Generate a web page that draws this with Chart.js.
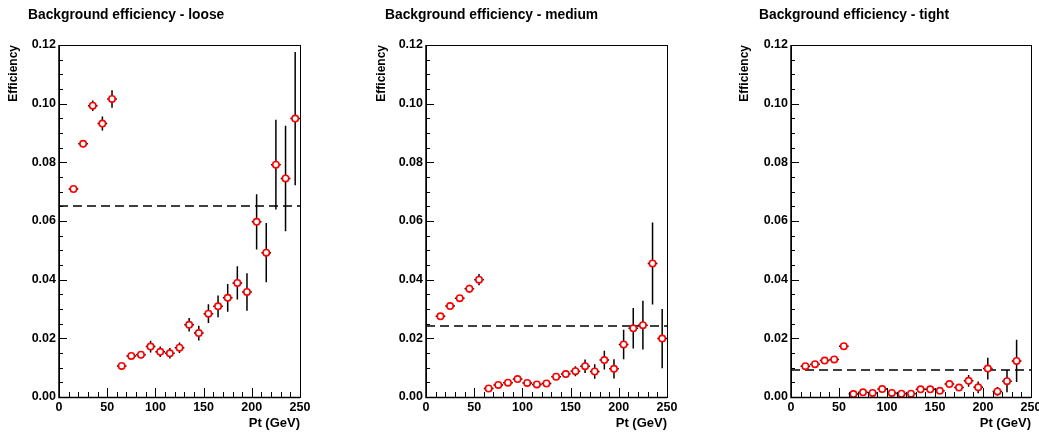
<!DOCTYPE html>
<html><head><meta charset="utf-8">
<script src="https://cdn.jsdelivr.net/npm/chart.js@4.4.1/dist/chart.umd.min.js"></script>
<style>
html,body{margin:0;padding:0;background:#fff;overflow:hidden;width:1039px;height:432px;}
#wrap{position:relative;width:1039px;height:432px;overflow:hidden;background:#fff;}
canvas{position:absolute;top:0;}
</style></head><body><div id="wrap">
<canvas id="c0" width="340" height="432"></canvas>
<canvas id="c1" width="340" height="432"></canvas>
<canvas id="c2" width="340" height="432"></canvas>
</div>
<script>
// ---- data ----
const ptBins = [15,25,35,45,55,65,75,85,95,105,115,125,135,145,155,165,175,185,195,205,215,225,235,245];
const binHalfWidth = 5;
const looseEff = [0.0709,0.0863,0.0993,0.0932,0.1016,0.0106,0.0140,0.0144,0.0172,0.0154,0.0149,0.0168,0.0246,0.0218,0.0284,0.0309,0.0338,0.0389,0.0358,0.0597,0.0492,0.0792,0.0745,0.0949];
const looseErr = [0.0006,0.0012,0.0018,0.0024,0.0030,0.0006,0.0008,0.0012,0.0020,0.0018,0.0018,0.0018,0.0023,0.0025,0.0032,0.0037,0.0047,0.0057,0.0064,0.0094,0.0101,0.0153,0.0180,0.0227];
const mediumEff = [0.0275,0.0310,0.0337,0.0369,0.0400,0.0029,0.0041,0.0049,0.0061,0.0048,0.0043,0.0046,0.0069,0.0078,0.0088,0.0105,0.0087,0.0126,0.0096,0.0179,0.0234,0.0245,0.0455,0.0199];
const mediumErr = [0.0005,0.0007,0.0009,0.0014,0.0019,0.0004,0.0005,0.0006,0.0008,0.0007,0.0007,0.0008,0.0011,0.0013,0.0017,0.0023,0.0025,0.0032,0.0033,0.0050,0.0069,0.0083,0.0140,0.0101];
const tightEff = [0.0105,0.0112,0.0124,0.0128,0.0173,0.0010,0.0016,0.0014,0.0027,0.0014,0.0011,0.0011,0.0026,0.0026,0.0021,0.0044,0.0032,0.0055,0.0033,0.0097,0.0019,0.0054,0.0123,null];
const tightErr = [0.0004,0.0004,0.0005,0.0006,0.0008,0.0002,0.0003,0.0003,0.0005,0.0004,0.0004,0.0004,0.0006,0.0007,0.0007,0.0010,0.0011,0.0020,0.0020,0.0037,0.0015,0.0038,0.0072,null];
const looseAvg = 0.0651, mediumAvg = 0.0242, tightAvg = 0.0092;
const xTickValues = [0,50,100,150,200,250];
const xTickLabels = ['0','50','100','150','200','250'];
const yTickValues = [0,0.02,0.04,0.06,0.08,0.10,0.12];
const yTickLabels = ['0.00','0.02','0.04','0.06','0.08','0.10','0.12'];
const xMinorStep = 10, yMinorStep = 0.005;
const titles = ['Background efficiency - loose','Background efficiency - medium','Background efficiency - tight'];
const xTitle = 'Pt (GeV)', yTitle = 'Efficiency';

// ---- layout ----
const FONT = '"Liberation Sans", Arial, Helvetica, sans-serif';
Chart.defaults.font.family = FONT;
const panels = [
  {eff: looseEff, err: looseErr, avg: looseAvg, titleX: 28, yTitleX: 14, plotL: 59, plotR: 300},
  {eff: mediumEff, err: mediumErr, avg: mediumAvg, titleX: 385, yTitleX: 382, plotL: 426, plotR: 667},
  {eff: tightEff, err: tightErr, avg: tightAvg, titleX: 759, yTitleX: 745, plotL: 791, plotR: 1031}
];
const PAD_L = 28, CW = 340;

const frameTicks = {
  id: 'frameTicks',
  afterDatasetsDraw(chart) {
    const {ctx, chartArea: a, scales: {x, y}} = chart;
    ctx.save();
    ctx.strokeStyle = '#000';
    ctx.lineWidth = 1;
    ctx.beginPath();
    for (let v = x.min; v <= x.max + 1e-9; v += xMinorStep) {
      const px = Math.round(x.getPixelForValue(v)) + 0.5;
      const len = (Math.round(v) % 50 === 0) ? 9 : 5;
      ctx.moveTo(px, a.bottom); ctx.lineTo(px, a.bottom - len);
    }
    for (let i = 0; y.min + i * yMinorStep <= y.max + 1e-9; i++) {
      const v = y.min + i * yMinorStep;
      const py = Math.round(y.getPixelForValue(v)) + 0.5;
      const len = (i % 4 === 0) ? 8 : 4;
      ctx.moveTo(a.left, py); ctx.lineTo(a.left + len, py);
    }
    ctx.stroke();
    ctx.lineWidth = 1;
    ctx.strokeRect(Math.round(a.left) + 0.5, Math.round(a.top) + 0.5, Math.round(a.right - a.left), Math.round(a.bottom - a.top));
    ctx.lineWidth = 1.5;
    ctx.beginPath();
    ctx.moveTo(Math.round(a.left), a.top); ctx.lineTo(Math.round(a.left), a.bottom + 0.5);
    ctx.lineTo(a.right, a.bottom + 0.5);
    ctx.stroke();
    ctx.restore();
  }
};

panels.forEach((p, idx) => {
  const canvasLeft = p.titleX - PAD_L;
  const cv = document.getElementById('c' + idx);
  cv.style.left = canvasLeft + 'px';
  const padR = CW - (p.plotR - canvasLeft);
  const yW = p.plotL - p.titleX;

  const markers = [], vErr = [], hErr = [];
  ptBins.forEach((b, i) => {
    const v = p.eff[i];
    if (v === null || v === undefined) return;
    markers.push({x: b, y: v});
    vErr.push({x: b, y: v - p.err[i]}, {x: b, y: v + p.err[i]}, {x: b, y: null});
    hErr.push({x: b - binHalfWidth, y: v}, {x: b + binHalfWidth, y: v}, {x: b, y: null});
  });

  new Chart(cv, {
    type: 'line',
    data: {
      datasets: [
        {data: markers, showLine: false, pointRadius: 3.2, pointBorderWidth: 1.6, pointBorderColor: '#ff0000', pointBackgroundColor: '#ffffff', order: 0},
        {data: vErr, borderColor: '#000', borderWidth: 1.5, pointRadius: 0, spanGaps: false, order: 1},
        {data: hErr, borderColor: '#000', borderWidth: 1.5, pointRadius: 0, spanGaps: false, order: 1},
        {data: [{x: 0, y: p.avg}, {x: 250, y: p.avg}], borderColor: '#000', borderWidth: 1.3, borderDash: [9, 5], pointRadius: 0, order: 2}
      ]
    },
    options: {
      responsive: false, animation: false, devicePixelRatio: 1, events: [],
      layout: {padding: {left: PAD_L, right: padR, top: 0, bottom: 0}},
      plugins: {
        legend: {display: false}, tooltip: {enabled: false},
        title: {display: true, text: titles[idx], align: 'start', color: '#000',
          font: {family: FONT, size: 13.8, weight: 'bold', lineHeight: 1.2},
          padding: {top: 6.7, bottom: 21.7}}
      },
      scales: {
        x: {
          type: 'linear', position: 'bottom', min: 0, max: 250,
          grid: {display: false, drawTicks: false}, border: {display: false},
          afterFit: s => { s.height = 35; },
          afterBuildTicks: s => { s.ticks = xTickValues.map(v => ({value: v})); },
          ticks: {color: '#000', font: {size: 12.5, weight: 'bold'}, padding: 3.5, maxRotation: 0, minRotation: 0, autoSkip: false,
            callback: (v) => xTickLabels[xTickValues.indexOf(v)]},
          title: {display: true, text: xTitle, align: 'end', color: '#000', font: {size: 13, weight: 'bold', lineHeight: 1.2}, padding: {top: 0, bottom: 1.2}}
        },
        y: {
          type: 'linear', position: 'left', min: 0, max: 0.12,
          grid: {display: false, drawTicks: false}, border: {display: false},
          afterFit: s => { s.width = yW; },
          afterBuildTicks: s => { s.ticks = yTickValues.map(v => ({value: v})); },
          ticks: {color: '#000', font: {size: 12.5, weight: 'bold'}, padding: 3, autoSkip: false,
            callback: (v) => yTickLabels[yTickValues.findIndex(t => Math.abs(t - v) < 1e-9)]},
          title: {display: true, text: yTitle, align: 'end', color: '#000', font: {size: 12, weight: 'bold', lineHeight: 1.2},
            padding: {top: (p.yTitleX - p.titleX) - 7.2, bottom: 0}}
        }
      }
    },
    plugins: [frameTicks]
  });
});
</script>
</body></html>
